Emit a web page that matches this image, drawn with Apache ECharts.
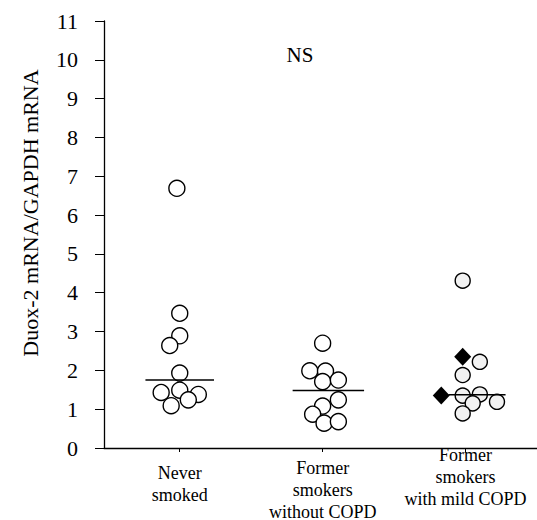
<!DOCTYPE html>
<html>
<head>
<meta charset="utf-8">
<script src="https://cdn.jsdelivr.net/npm/echarts@6/dist/echarts.min.js"></script>
<style>html,body{margin:0;padding:0;background:#fff}#c{width:537px;height:520px}</style>
</head>
<body>
<div id="c"></div>
<script>
// Categories (group positions 1,2,3 on the x value axis)
var categories = ['Never\nsmoked', 'Former\nsmokers\nwithout COPD', 'Former\nsmokers\nwith mild COPD'];
var yTicks = [0,1,2,3,4,5,6,7,8,9,10,11];

// Never smoked: values and horizontal jitter offsets
var neverVals   = [6.69, 3.47, 2.89, 2.64, 1.93, 1.43, 1.49, 1.38, 1.24, 1.09];
var neverJit    = [-0.02, 0.00, 0.00, -0.07, 0.00, -0.13, 0.00, 0.13, 0.06, -0.06];
// Former smokers without COPD
var formerVals  = [2.70, 1.99, 1.98, 1.71, 1.75, 1.24, 1.08, 0.87, 0.64, 0.68];
var formerJit   = [0.00, -0.09, 0.02, 0.00, 0.11, 0.11, 0.00, -0.07, 0.01, 0.11];
// Former smokers with mild COPD: circles
var copdVals    = [4.31, 2.22, 1.88, 1.35, 1.38, 1.19, 1.15, 0.89];
var copdJit     = [-0.02, 0.10, -0.02, -0.02, 0.10, 0.22, 0.05, -0.02];
// Former smokers with mild COPD: diamonds
var copdDiaVals = [2.35, 1.35];
var copdDiaJit  = [-0.02, -0.17];
// Median lines
var medians     = [1.75, 1.48, 1.37];
var medStart    = [-0.24, -0.21, -0.12];
var medEnd      = [0.24, 0.29, 0.28];

function pts(group, vals, jit) {
  return vals.map(function (v, i) { return [group + jit[i], v]; });
}

var serif = '"Liberation Serif", "DejaVu Serif", serif';
var chart = echarts.init(document.getElementById('c'), null, {renderer: 'svg'});

var circleStyle = {color: '#fff', borderColor: '#000', borderWidth: 1.4, opacity: 1};
var series = [
  {type: 'scatter', symbol: 'circle', symbolSize: 16, data: pts(1, neverVals, neverJit), itemStyle: circleStyle, silent: true, z: 3},
  {type: 'scatter', symbol: 'circle', symbolSize: 16, data: pts(2, formerVals, formerJit), itemStyle: circleStyle, silent: true, z: 3},
  {type: 'scatter', symbol: 'circle', symbolSize: 15, data: pts(3, copdVals, copdJit), itemStyle: {color: '#f2f2f2', borderColor: '#000', borderWidth: 1.4, opacity: 1}, silent: true, z: 3},
  {type: 'scatter', symbol: 'diamond', symbolSize: [17, 18], data: pts(3, copdDiaVals, copdDiaJit), itemStyle: {color: '#000', opacity: 1}, silent: true, z: 4}
];
medians.forEach(function (m, i) {
  series.push({
    type: 'line', silent: true, symbol: 'none', z: 5,
    lineStyle: {color: '#000', width: 1.5},
    data: [[i + 1 + medStart[i], m], [i + 1 + medEnd[i], m]]
  });
});

var labelOffsets = [18.5, 13.5, 0.5];
chart.setOption({
  animation: false,
  grid: {left: 104, right: 0, top: 21, bottom: 72, outerBoundsMode: 'none', containLabel: false},
  xAxis: {
    type: 'value', min: 0.47, max: 3.5,
    splitLine: {show: false},
    axisLine: {show: true, lineStyle: {color: '#000', width: 1.3}},
    axisTick: {show: true, length: 4, customValues: [1, 2, 3], lineStyle: {color: '#000'}},
    axisLabel: {
      customValues: [1, 2, 3], margin: -5, verticalAlign: 'top',
      color: '#000', fontFamily: serif, fontSize: 18, lineHeight: 22,
      formatter: function (v) {
        var idx = Math.round(v) - 1;
        var lines = categories[idx].split('\n').map(function (s) { return '{a|' + s + '}'; });
        return '{sp' + idx + '|\u00a0}\n' + lines.join('\n');
      },
      rich: {
        a: {fontFamily: serif, fontSize: 18, lineHeight: 22, color: '#000', align: 'center'},
        sp0: {fontSize: 1, lineHeight: labelOffsets[0]},
        sp1: {fontSize: 1, lineHeight: labelOffsets[1]},
        sp2: {fontSize: 1, lineHeight: labelOffsets[2]}
      }
    }
  },
  yAxis: {
    type: 'value', min: 0, max: 11, interval: 1,
    splitLine: {show: false},
    axisLine: {show: true, lineStyle: {color: '#000', width: 1.3}},
    axisTick: {show: true, length: 9, lineStyle: {color: '#000'}},
    axisLabel: {color: '#000', fontFamily: serif, fontSize: 22, margin: 26,
      formatter: function (v) { return yTicks.indexOf(v) >= 0 ? String(v) : ''; }}
  },
  graphic: [
    {type: 'text', x: 30, y: 213, rotation: Math.PI / 2,
      style: {text: 'Duox-2 mRNA/GAPDH mRNA', font: '22px ' + serif, fill: '#000', textAlign: 'center', textVerticalAlign: 'middle'}},
    {type: 'text', x: 300, y: 55,
      style: {text: 'NS', font: '21px ' + serif, fill: '#000', textAlign: 'center', textVerticalAlign: 'middle'}}
  ],
  series: series
});
</script>
</body>
</html>
